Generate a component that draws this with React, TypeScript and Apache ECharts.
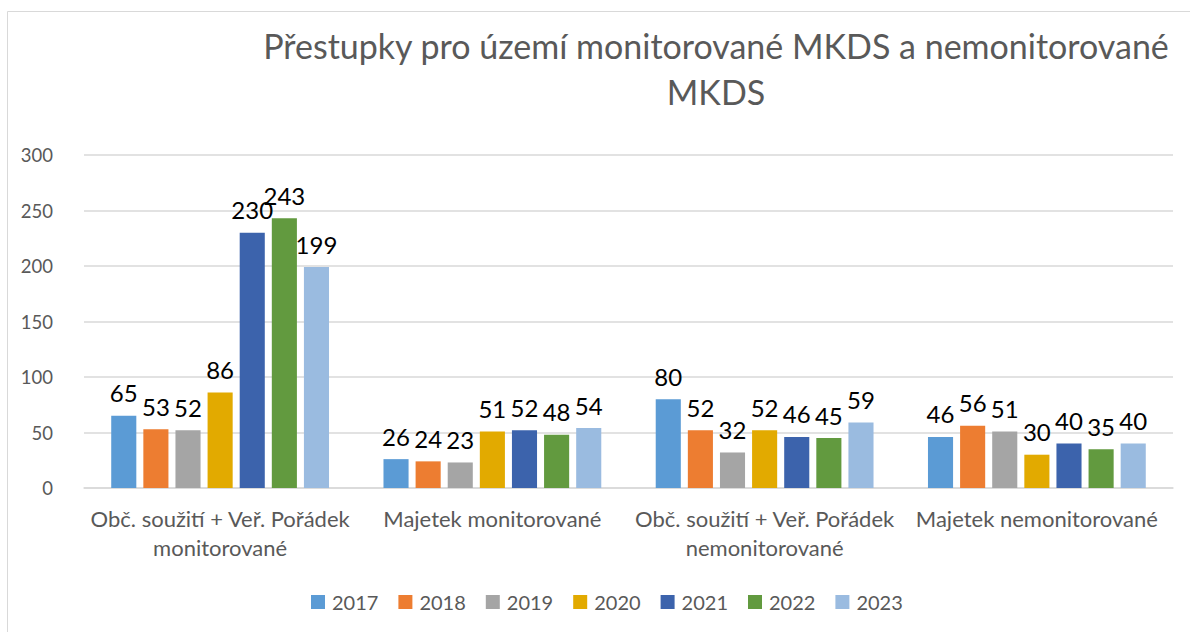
import React, { useEffect, useRef } from "react";
import * as echarts from "echarts";

const categories = [
  "Obč. soužití + Veř. Pořádek\nmonitorované",
  "Majetek monitorované",
  "Obč. soužití + Veř. Pořádek\nnemonitorované",
  "Majetek nemonitorované",
];
const years = ["2017", "2018", "2019", "2020", "2021", "2022", "2023"];
const v2017 = [65, 26, 80, 46];
const v2018 = [53, 24, 52, 56];
const v2019 = [52, 23, 32, 51];
const v2020 = [86, 51, 52, 30];
const v2021 = [230, 52, 46, 40];
const v2022 = [243, 48, 45, 35];
const v2023 = [199, 54, 59, 40];
const yTicks = [0, 50, 100, 150, 200, 250, 300];
const titleText = "Přestupky pro území monitorované MKDS a nemonitorované\nMKDS";

const colors = ["#5B9BD5", "#ED7D31", "#A5A5A5", "#E2AA00", "#3C63AC", "#629A3F", "#9ABBE0"];
const FONT = "Lato, 'Noto Sans', sans-serif";

export default function App() {
  const ref = useRef<HTMLDivElement>(null);
  useEffect(() => {
    document.body.style.margin = "0";
    if (!ref.current) return;
    const chart = echarts.init(ref.current, undefined, { renderer: "svg" });
    const values = [v2017, v2018, v2019, v2020, v2021, v2022, v2023];
    chart.setOption({
      animation: false,
      textStyle: { fontFamily: FONT },
      color: colors,
      graphic: [
        {
          type: "rect",
          shape: { x: 7.5, y: 11.5, width: 1300, height: 700 },
          style: { fill: "none", stroke: "#d9d9d9", lineWidth: 1 },
          silent: true,
        },
        {
          type: "text",
          x: 716,
          y: 22,
          style: {
            text: titleText,
            fontFamily: FONT,
            fontSize: 34,
            fontWeight: "normal",
            fill: "#595959",
            textAlign: "center",
            textVerticalAlign: "top",
            lineHeight: 46,
          },
        },
      ],
      grid: { left: 84, right: 17, top: 155, bottom: 144, containLabel: false },
      legend: {
        data: years,
        bottom: 20,
        left: 311,
        padding: 0,
        itemWidth: 14,
        itemHeight: 14,
        itemGap: 20,
        icon: "rect",
        textStyle: { fontFamily: FONT, fontSize: 20, color: "#595959", padding: [0, 0, 0, 2] },
      },
      xAxis: {
        type: "category",
        data: categories,
        axisLine: { lineStyle: { color: "#d9d9d9", width: 1.5 } },
        axisTick: { show: false },
        axisLabel: {
          interval: 0,
          margin: 16,
          fontFamily: FONT,
          fontSize: 22,
          color: "#595959",
          lineHeight: 29,
        },
      },
      yAxis: {
        type: "value",
        min: 0,
        max: 300,
        interval: 50,
        axisLine: { show: false },
        axisTick: { show: false },
        splitLine: { lineStyle: { color: "#d9d9d9", width: 1.5 } },
        axisLabel: {
          margin: 31,
          fontFamily: FONT,
          fontSize: 18.5,
          color: "#595959",
          formatter: (v: number) => (yTicks.includes(v) ? String(v) : ""),
        },
      },
      series: years.map((y, i) => ({
        name: y,
        type: "bar",
        data: values[i],
        barGap: "28%",
        barCategoryGap: "20%",
        label: {
          show: true,
          position: "top",
          distance: 11,
          fontFamily: FONT,
          fontSize: 24,
          color: "#000",
        },
      })),
    });
    return () => chart.dispose();
  }, []);
  return <div ref={ref} style={{ width: 1190, height: 632 }} />;
}
